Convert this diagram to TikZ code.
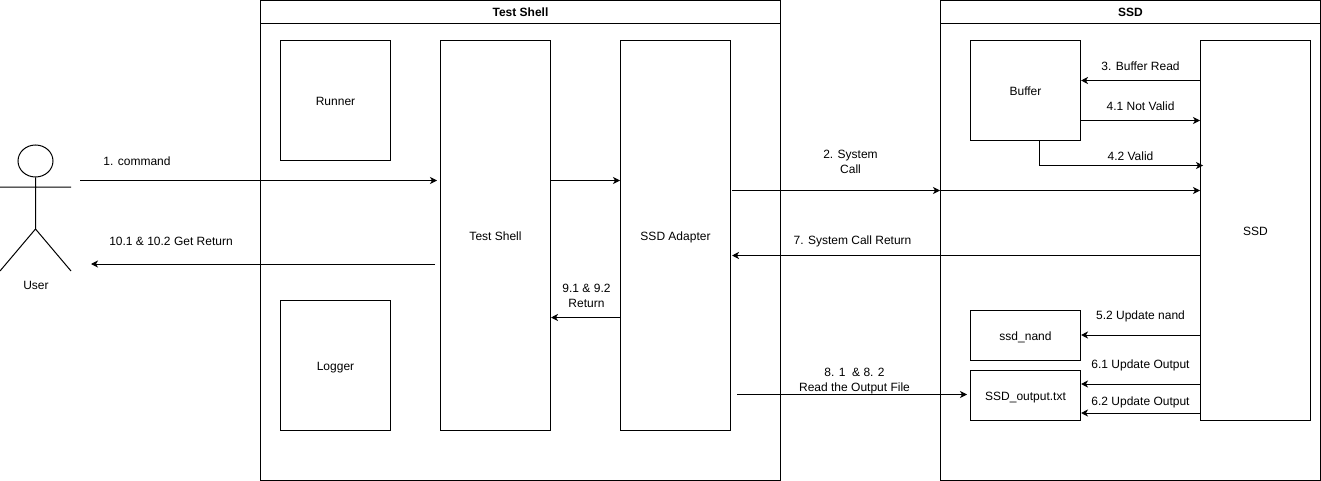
\documentclass[tikz,border=0pt]{standalone}
\usepackage{fontspec}
\setmainfont{Liberation Sans}
\usetikzlibrary{arrows.meta,shapes.geometric}

\tikzset{
  box/.style={draw=black,line width=1pt,fill=white,inner sep=0pt,text height=11pt,text depth=0.4pt},
  head/.style={box,text height=9pt,text depth=0.4pt},
  lbl/.style={inner sep=0pt,align=center,font=\fontsize{12}{15}\selectfont},
  arr/.style={draw=black,line width=1pt,-{Stealth[length=7pt,width=7pt,inset=2pt]}}
}

\begin{document}
\begin{tikzpicture}[x=1pt,y=-1pt,every node/.append style={font=\fontsize{12}{15}\selectfont}]
  \useasboundingbox (0,0) rectangle (1321,481);

  % frames
  \node[box,minimum width=520pt,minimum height=480pt] (shellframe) at (520.5,240.5) {};
  \node[head,minimum width=520pt,minimum height=23pt] (shellhead) at (520.5,12) {\textbf{Test Shell}};
  \node[box,minimum width=380pt,minimum height=480pt] (ssdframe) at (1130.5,240.5) {};
  \node[head,minimum width=380pt,minimum height=23pt] (ssdhead) at (1130.5,12) {\textbf{SSD}};

  % test shell side
  \node[box,minimum width=110pt,minimum height=120pt] (runner) at (335.5,100.5) {Runner};
  \node[box,minimum width=110pt,minimum height=130pt] (logger) at (335.5,365.5) {Logger};
  \node[box,minimum width=110pt,minimum height=390pt] (tshell) at (495.5,235.5) {Test Shell};
  \node[box,minimum width=110pt,minimum height=390pt] (adapter) at (675.5,235.5) {SSD Adapter};

  % ssd side
  \node[box,minimum width=110pt,minimum height=100pt] (buffer) at (1025.5,90.5) {Buffer};
  \node[box,minimum width=110pt,minimum height=380pt] (ssd) at (1255.5,230.5) {SSD};
  \node[box,minimum width=110pt,minimum height=50pt] (nand) at (1025.5,335.5) {ssd\_nand};
  \node[box,minimum width=110pt,minimum height=50pt] (output) at (1025.5,395.5) {SSD\_output.txt};

  % user
  \node[draw=black,line width=1pt,ellipse,minimum width=35pt,minimum height=32pt,inner sep=0pt] (userhead) at (35.5,161) {};
  \coordinate (hip) at (35.5,229);
  \coordinate (armL) at (0,187);
  \coordinate (armR) at (71,187);
  \coordinate (legL) at (0,271);
  \coordinate (legR) at (71,271);
  \draw[line width=1pt] (userhead.south) -- (hip) (armL) -- (armR) (legL) -- (hip) -- (legR);
  \node[lbl] (user) at (36,285) {User};

  % free ends
  \coordinate (cmdstart) at (80,180.5);
  \coordinate (retend) at (91,264);
  \coordinate (syscallstart) at (732,190.5);
  \coordinate (readstart) at (737,394.5);

  % connectors
  \draw[arr] (cmdstart) -- ([xshift=-3pt]tshell.west |- cmdstart);
  \draw[arr] (tshell.east |- cmdstart) -- (adapter.west |- cmdstart);
  \draw[arr] (syscallstart) -- (ssdframe.west |- syscallstart);
  \draw[arr] (ssdframe.west |- syscallstart) -- (ssd.west |- syscallstart);
  \draw[arr] (ssd.west |- 0,80.5) -- (buffer.east |- 0,80.5);
  \draw[arr] (buffer.east |- 0,120.5) -- (ssd.west |- 0,120.5);
  \draw[arr] (1039.5,140.5) |- ([xshift=3pt]ssd.west |- 0,165.5);
  \draw[arr] (ssd.west |- 0,255.5) -- ([xshift=1pt]adapter.east |- 0,255.5);
  \draw[arr] (ssd.west |- 0,335) -- (nand.east |- 0,335);
  \draw[arr] (ssd.west |- 0,384) -- (output.east |- 0,384);
  \draw[arr] (ssd.west |- 0,413) -- (output.east |- 0,413);
  \draw[arr] (adapter.west |- 0,317.5) -- (tshell.east |- 0,317.5);
  \draw[arr] (readstart) -- ([xshift=-3pt]output.west |- readstart);
  \draw[arr] ([xshift=-5pt]tshell.west |- retend) -- (retend);

  % labels
  \node[lbl] (l1) at (137,161) {1. command};
  \node[lbl] (l10) at (171,241) {10.1 \& 10.2 Get Return};
  \node[lbl] (l9) at (586.5,296) {9.1 \& 9.2\\Return};
  \node[lbl] (l2) at (850.5,161.5) {2. System\\Call};
  \node[lbl] (l7) at (852.5,241) {7. System Call Return};
  \node[lbl] (l8) at (854.5,381) {8. 1~~\& 8. 2\\Read the Output File};
  \node[lbl] (l3) at (1140.5,66) {3. Buffer Read};
  \node[lbl] (l41) at (1140.5,106) {4.1 Not Valid};
  \node[lbl] (l42) at (1130.5,156) {4.2 Valid};
  \node[lbl] (l52) at (1140.5,316) {5.2 Update nand};
  \node[lbl] (l61) at (1140.5,365) {6.1 Update Output};
  \node[lbl] (l62) at (1140.5,402) {6.2 Update Output};
\end{tikzpicture}
\end{document}
